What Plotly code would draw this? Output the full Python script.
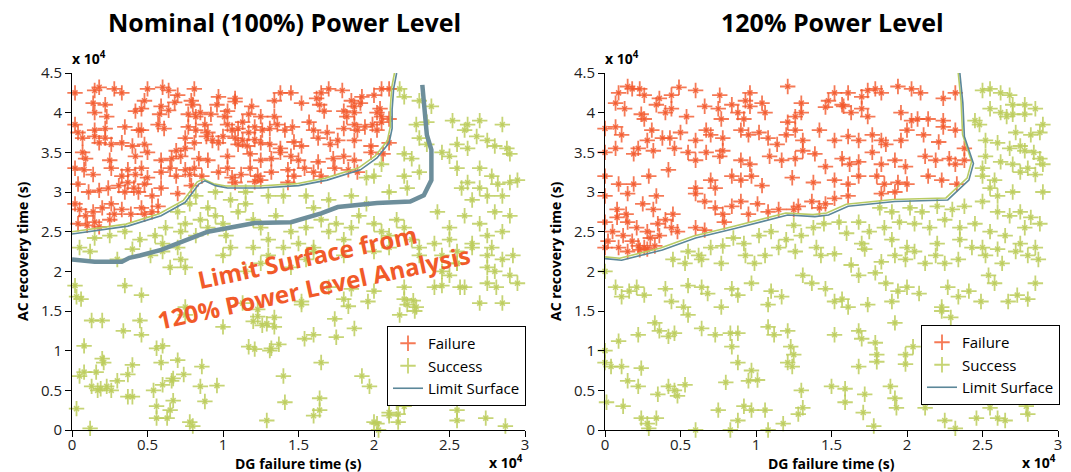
import plotly.graph_objects as go

# ---------------- data (units of 10^4 s) ----------------
nominal_failure = [
(0.02,4.25),(0.15,4.28),(0.18,4.32),(0.28,4.3),(0.33,4.25),(0.5,4.3),(0.6,4.32),(0.64,4.28),(0.7,4.22),(0.81,4.3),(0.97,4.2),(1.08,4.18),(1.38,4.25),(1.45,4.25),(1.62,4.18),(1.65,4.25),(1.79,4.28),(1.92,4.2),(2.0,4.22),(2.05,4.3),(2.1,4.3),(1.7,4.3),
(0.14,4.12),(0.22,4.1),(0.48,4.15),(0.59,4.08),(0.68,4.13),(0.79,4.15),(0.8,4.1),(0.96,4.1),(1.08,4.14),(1.19,4.08),(1.34,4.15),(1.52,4.12),(1.64,4.1),(1.85,4.15),(1.87,4.08),(1.91,4.12),(2.04,4.05),
(0.15,4.0),(0.23,3.95),(0.42,4.02),(0.46,4.05),(0.58,3.98),(0.64,4.03),(0.77,3.98),(0.82,3.95),(0.85,4.0),(0.92,3.98),(1.01,3.95),(1.03,4.02),(1.17,3.98),(1.25,3.95),(1.34,3.95),(1.67,4.02),(1.8,4.02),(1.82,3.95),(1.87,4.0),(2.02,4.0),(2.05,3.95),(2.1,3.92),
(0.02,3.85),(0.04,3.75),(0.15,3.78),(0.22,3.8),(0.35,3.82),(0.44,3.78),(0.46,3.78),(0.57,3.85),(0.61,3.8),(0.77,3.82),(0.82,3.78),(0.88,3.85),(0.9,3.75),(1.03,3.85),(1.06,3.78),(1.1,3.8),(1.13,3.88),(1.17,3.75),(1.21,3.82),(1.26,3.78),(1.31,3.8),(1.36,3.85),(1.41,3.78),(1.46,3.82),(1.57,3.88),(1.6,3.78),(1.69,3.75),(1.8,3.8),(1.87,3.85),(1.89,3.78),(1.94,3.82),(1.99,3.85),(2.02,3.78),(2.05,3.88),
(0.07,3.68),(0.15,3.7),(0.18,3.62),(0.22,3.68),(0.26,3.6),(0.33,3.62),(0.4,3.58),(0.48,3.6),(0.75,3.68),(0.81,3.62),(0.89,3.7),(0.93,3.65),(0.97,3.62),(1.0,3.7),(1.08,3.68),(1.1,3.6),(1.13,3.65),(1.16,3.58),(1.21,3.66),(1.25,3.62),(1.31,3.6),(1.38,3.55),(1.47,3.63),(1.52,3.58),(1.63,3.68),(1.71,3.6),(1.76,3.65),(1.87,3.65),(1.98,3.58),(2.1,3.62),
(0.07,3.5),(0.09,3.42),(0.25,3.4),(0.42,3.45),(0.5,3.5),(0.59,3.4),(0.66,3.42),(0.69,3.52),(0.72,3.45),(0.75,3.55),(0.84,3.42),(0.9,3.4),(1.03,3.45),(1.18,3.48),(1.25,3.4),(1.32,3.42),(1.38,3.5),(1.45,3.45),(1.5,3.4),(1.63,3.38),(1.73,3.42),(1.8,3.45),(1.87,3.4),(1.98,3.5),(2.06,3.48),
(0.02,3.3),(0.08,3.28),(0.14,3.22),(0.26,3.3),(0.33,3.2),(0.37,3.28),(0.42,3.22),(0.46,3.3),(0.5,3.18),(0.59,3.25),(0.65,3.3),(0.69,3.2),(0.75,3.28),(0.78,3.22),(0.81,3.3),(0.86,3.2),(0.97,3.25),(1.03,3.3),(1.06,3.18),(1.12,3.22),(1.18,3.3),(1.23,3.2),(1.32,3.25),(1.43,3.28),(1.47,3.2),(1.54,3.3),(1.6,3.25),(1.65,3.2),(1.74,3.3),(1.83,3.28),(1.89,3.25),
(0.04,3.1),(0.11,3.0),(0.18,3.02),(0.24,3.05),(0.31,3.08),(0.35,3.0),(0.37,3.12),(0.41,3.05),(0.44,3.0),(0.48,3.1),(0.53,2.95),(0.59,3.05),(0.7,2.98),(0.79,3.08),(1.08,3.12),(1.21,3.13),(1.25,3.15),(1.43,3.12),
(0.02,2.85),(0.05,2.78),(0.09,2.7),(0.14,2.75),(0.2,2.8),(0.26,2.85),(0.28,2.72),(0.33,2.78),(0.39,2.72),(0.46,2.8),(0.48,2.72),(0.53,2.75),(0.57,2.82),(0.04,2.6),(0.1,2.58),(0.15,2.62),(0.25,2.65),(0.18,2.56),
]

nominal_success = [
(2.17,4.3),(2.2,4.2),(2.3,4.15),(2.38,4.08),(2.35,3.88),(2.28,3.85),(2.52,3.9),(2.62,3.85),(2.7,3.9),(2.85,3.85),(2.6,3.78),(2.68,3.7),(2.3,3.68),(2.35,3.6),(2.55,3.6),(2.62,3.55),(2.75,3.65),(2.8,3.58),(2.88,3.55),(2.9,3.48),(2.2,3.48),(2.25,3.42),(2.45,3.5),(2.5,3.45),(2.55,3.3),(2.7,3.3),(2.78,3.2),(2.82,3.1),(2.9,3.12),(2.95,3.15),(2.62,3.12),(2.58,3.05),(2.7,3.05),(2.75,2.95),(2.65,2.9),(2.85,2.95),(2.9,2.7),(2.8,2.75),(2.7,2.6),(2.6,2.7),(2.5,2.55),(2.42,2.75),(2.2,3.2),(2.3,3.25),(2.22,3.05),(2.1,3.0),(2.0,3.2),(2.05,3.35),(1.95,3.18),
(0.82,2.95),(0.78,2.85),(0.9,2.8),(0.95,2.7),(0.85,2.65),(0.75,2.6),(0.7,2.75),(0.72,2.5),(0.82,2.45),(0.9,2.55),(1.0,2.6),(1.02,2.45),(1.1,2.75),(1.15,2.85),(1.2,2.65),(1.25,2.55),(1.3,2.4),(1.35,2.7),(1.4,2.95),(1.45,2.5),(1.5,2.35),(1.55,2.55),(1.6,2.8),(1.65,2.65),(1.7,2.5),(1.75,2.6),(1.8,2.4),(1.85,2.55),(1.9,2.7),(1.95,2.85),(2.0,2.6),(2.05,2.5),(2.1,2.45),(2.15,2.65),(2.2,2.55),(2.25,2.4),(2.3,2.3),(1.85,2.95),(1.7,2.9),(1.55,2.95),(1.3,2.95),(1.15,3.0),(1.05,2.9),(0.95,3.0),(0.62,2.55),(0.55,2.45),(0.45,2.4),(0.35,2.5),(0.25,2.45),(0.15,2.42),(0.6,2.35),(0.7,2.3),(1.2,2.3),(1.4,2.3),(1.6,2.3),(2.4,2.35),(2.5,2.4),(2.55,2.25),(2.65,2.35),(2.75,2.45),(2.85,2.5),(2.78,2.3),(2.92,2.2),(2.45,2.2),
(0.05,2.3),(0.12,2.25),(0.3,2.15),(0.4,2.28),(0.52,2.2),(0.6,2.25),(0.65,2.05),(0.72,2.15),(0.75,2.05),(1.0,2.2),(1.05,2.3),(1.15,2.0),(1.25,2.1),(1.3,2.2),(1.45,2.05),(1.55,2.15),(1.6,2.25),(1.8,2.2),(2.0,2.25),(2.1,2.3),(2.3,2.2),(2.45,2.0),(2.55,2.1),(2.65,2.3),(2.75,2.2),(2.8,2.0),(2.85,2.15),(2.9,1.95),(2.75,1.85),(2.6,1.8),(2.45,1.82),(2.2,1.8),(2.0,1.75),(1.85,1.78),(1.7,1.8),
(0.02,1.82),(0.03,1.68),(0.06,1.65),(0.35,1.82),(0.46,1.7),(0.75,1.55),(1.13,1.6),(1.23,1.52),(1.52,1.62),(1.52,1.58),(1.8,1.65),(1.83,1.56),(1.96,1.62),(2.2,1.65),(2.22,1.58),(2.26,1.63),(2.28,1.55),(2.4,1.8),(2.57,1.8),(2.81,1.8),
(0.13,1.38),(0.2,1.38),(0.34,1.25),(0.45,1.38),(0.46,1.2),(0.75,1.45),(1.0,1.3),(1.2,1.37),(1.23,1.43),(1.26,1.32),(1.29,1.34),(1.34,1.3),(1.34,1.42),(1.54,1.15),(1.6,1.2),(1.74,1.4),(1.75,1.17),(1.87,1.28),(2.17,1.45),(2.27,1.5),
(0.08,1.06),(0.2,0.9),(0.21,0.85),(0.4,0.82),(0.56,1.03),(0.6,1.06),(0.59,0.85),(0.7,0.88),(0.86,0.8),(1.17,1.05),(1.21,1.02),(1.31,1.0),(1.32,1.03),(1.37,1.08),(1.65,0.85),(1.92,0.68),(1.97,0.55),
(0.05,0.68),(0.08,0.73),(0.16,0.73),(0.13,0.55),(0.3,0.62),(0.37,0.7),(0.6,0.57),(0.66,0.62),(0.67,0.65),(0.74,0.7),(0.85,0.55),(0.96,0.56),(1.4,0.68),
(0.03,0.27),(0.17,0.5),(0.19,0.52),(0.23,0.55),(0.26,0.5),(0.37,0.42),(0.4,0.42),(0.54,0.5),(0.56,0.3),(0.65,0.25),(0.67,0.37),(0.88,0.36),(1.41,0.35),(1.64,0.4),(1.64,0.25),(2.1,0.22),(2.2,0.35),(2.15,0.35),(2.2,0.3),(2.84,0.45),
(0.12,0.02),(0.56,0.15),(0.63,0.15),(0.78,0.1),(0.8,0.05),(1.29,0.12),(1.6,0.18),(2.0,0.1),(2.02,0.08),(2.03,0.0),(2.1,0.18),(2.16,0.2),(2.16,0.1),(2.55,0.12),(2.74,0.15),(2.87,0.05),(2.55,0.25),
(2.5,1.95),(2.55,2.1),(2.7,1.6),(2.75,2.05),(2.85,1.6),(2.95,1.85),
]

high_failure = [
(0.09,4.25),(0.15,4.33),(0.18,4.3),(0.23,4.3),(0.26,4.22),(0.36,4.18),(0.44,4.22),(0.49,4.32),(0.6,4.28),(0.76,4.22),(0.96,4.25),(1.04,4.12),(1.21,4.33),(1.3,4.12),(1.52,4.25),(1.61,4.25),(1.7,4.2),(1.74,4.28),(1.79,4.3),(1.83,4.25),(1.94,4.33),(2.03,4.3),(2.09,4.25),(2.24,4.18),(2.32,4.25),(1.48,4.15),(1.57,4.1),(0.93,4.15),
(0.07,4.12),(0.13,4.05),(0.24,3.98),(0.26,3.92),(0.34,4.1),(0.4,4.0),(0.44,4.05),(0.54,3.95),(0.66,4.08),(0.75,4.05),(0.77,3.92),(0.84,4.1),(0.88,4.0),(0.92,3.92),(0.96,4.08),(1.06,4.0),(1.21,3.88),(1.26,3.95),(1.3,4.0),(1.46,4.07),(1.58,4.08),(1.63,4.0),(1.7,4.05),(1.74,3.95),(1.96,4.0),(2.03,3.9),(2.07,3.92),(2.14,3.92),(2.24,3.9),
(0.0,3.8),(0.07,3.82),(0.11,3.72),(0.28,3.65),(0.31,3.78),(0.38,3.68),(0.43,3.68),(0.5,3.75),(0.6,3.65),(0.67,3.78),(0.7,3.72),(0.78,3.68),(0.9,3.78),(0.95,3.72),(1.02,3.75),(1.08,3.68),(1.14,3.6),(1.2,3.72),(1.26,3.78),(1.31,3.65),(1.42,3.78),(1.52,3.65),(1.61,3.7),(1.68,3.65),(1.77,3.72),(1.83,3.65),(1.86,3.6),(1.96,3.65),(2.0,3.78),(2.11,3.72),(2.21,3.63),(2.24,3.82),(2.32,3.78),(2.38,3.55),
(0.0,3.5),(0.07,3.55),(0.19,3.48),(0.22,3.55),(0.32,3.52),(0.46,3.55),(0.55,3.5),(0.6,3.4),(0.67,3.5),(0.76,3.45),(0.78,3.52),(0.9,3.4),(0.96,3.35),(1.09,3.45),(1.17,3.4),(1.26,3.42),(1.31,3.52),(1.39,3.48),(1.46,3.32),(1.57,3.42),(1.62,3.35),(1.68,3.38),(1.77,3.5),(1.83,3.35),(1.92,3.4),(1.99,3.32),(2.12,3.45),(2.19,3.4),(2.28,3.42),(2.32,3.35),(2.38,3.4),
(0.0,3.2),(0.09,3.1),(0.19,3.1),(0.29,3.2),(0.42,3.28),(0.6,3.05),(0.7,3.15),(0.73,3.05),(0.84,3.2),(0.9,3.15),(0.97,3.2),(1.04,3.08),(1.24,3.18),(1.38,3.12),(1.52,3.15),(1.61,3.1),(1.68,3.2),(1.8,3.2),(1.85,3.1),(1.94,3.12),(2.0,3.1),(2.14,3.2),(2.23,3.15),(2.33,3.1),
(0.0,2.95),(0.15,2.98),(0.34,2.95),(0.6,2.98),(0.66,2.88),(0.73,2.8),(0.84,2.82),(0.9,2.88),(1.01,2.85),(1.08,2.75),(1.28,2.82),(1.37,2.88),(1.46,2.85),(1.52,2.92),(1.61,2.95),(1.83,2.98),(1.92,3.0),(0.25,2.85),(0.32,2.78),(0.08,2.78),(0.14,2.72),(0.45,2.72),(0.78,2.72),(0.95,2.72),(1.15,2.78),(1.25,2.78),(1.42,2.8),
(0.0,2.62),(0.08,2.68),(0.15,2.62),(0.21,2.55),(0.28,2.5),(0.35,2.6),(0.4,2.65),(0.44,2.55),(0.48,2.5),(0.6,2.55),(0.66,2.52),(0.79,2.62),(0.05,2.5),(0.12,2.45),(0.18,2.38),(0.22,2.32),(0.3,2.42),(0.36,2.45),(0.02,2.38),(0.09,2.3),(0.26,2.3),
(0.0,2.3),(0.15,2.25),(0.23,2.27),(0.28,2.28),(0.33,2.32),
]

high_success = [
(2.5,4.28),(2.55,4.3),(2.62,4.25),(2.68,4.22),(2.7,4.1),(2.78,4.1),(2.85,4.05),(2.55,4.05),(2.62,4.0),(2.66,3.95),(2.7,3.98),(2.78,3.98),(2.45,3.9),(2.48,3.85),(2.9,3.85),(2.72,3.75),(2.82,3.72),(2.88,3.75),(2.52,3.65),(2.6,3.62),(2.68,3.55),(2.75,3.58),(2.78,3.52),(2.84,3.5),(2.88,3.42),(2.9,3.35),(2.8,3.3),(2.7,3.35),(2.62,3.38),(2.52,3.45),(2.5,3.3),(2.5,3.2),(2.58,3.15),(2.75,3.25),(2.85,3.22),(2.9,3.0),(2.7,3.0),(2.6,2.95),(2.55,3.05),
(1.82,2.8),(1.9,2.75),(2.02,2.8),(2.1,2.75),(2.2,2.82),(2.3,2.78),(2.38,2.82),(2.5,2.88),(2.6,2.75),(2.68,2.7),(2.75,2.75),(2.82,2.68),(2.88,2.6),(2.78,2.55),(2.65,2.45),(2.55,2.5),(2.45,2.6),(2.35,2.55),(2.25,2.65),(2.15,2.55),(2.05,2.6),(1.95,2.62),(1.85,2.55),(1.75,2.5),(1.68,2.62),(1.6,2.48),(1.55,2.62),(1.45,2.6),(1.38,2.55),(1.3,2.45),(1.25,2.58),(1.2,2.4),(1.1,2.5),(1.02,2.45),(0.92,2.35),(0.85,2.42),(0.78,2.32),(0.7,2.3),(0.62,2.2),(0.55,2.25),(0.45,2.15),(1.15,2.3),(1.4,2.3),(1.7,2.35),(1.9,2.4),(2.0,2.3),(2.2,2.35),(2.35,2.4),(2.5,2.3),(2.6,2.28),(2.75,2.35),(2.85,2.3),
(0.53,2.1),(0.64,2.15),(0.77,2.1),(0.93,2.2),(0.99,2.1),(1.06,2.2),(1.26,2.25),(1.43,2.2),(1.52,2.22),(1.63,2.08),(1.72,2.28),(1.83,2.12),(1.92,2.2),(1.99,2.15),(2.05,2.25),(2.12,2.1),(2.19,2.2),(2.25,2.1),(2.34,2.15),(2.43,2.3),(2.52,2.2),(2.63,2.1),(2.72,2.25),(2.8,2.2),(2.87,2.15),
(0.0,2.0),(0.07,1.8),(0.11,1.68),(0.16,1.75),(0.21,1.8),(0.26,1.7),(0.4,1.78),(0.44,1.62),(0.52,1.55),(0.55,1.82),(0.64,1.8),(0.68,1.72),(0.77,1.55),(0.84,1.78),(0.88,1.7),(0.97,1.85),(1.08,1.58),(1.1,1.75),(1.17,1.68),(1.31,1.95),(1.37,1.85),(1.46,1.78),(1.52,1.62),(1.57,1.65),(1.61,1.55),(1.68,1.95),(1.74,1.58),(1.79,1.98),(1.86,1.85),(1.9,1.62),(1.94,1.75),(2.0,1.8),(2.08,1.72),(2.23,1.55),(2.27,1.8),(2.34,1.68),(2.41,1.75),(2.49,1.62),(2.54,1.95),(2.58,1.85),(2.67,1.62),(2.73,1.7),(2.8,1.65),(2.85,1.85),
(0.0,1.0),(0.09,1.12),(0.22,1.2),(0.33,1.35),(0.36,1.25),(0.42,1.18),(0.46,1.22),(0.55,1.45),(0.64,1.28),(0.73,1.2),(0.83,1.22),(0.84,1.05),(0.88,1.22),(1.08,1.3),(1.12,1.2),(1.21,1.25),(1.23,1.05),(1.25,0.95),(1.52,1.2),(1.68,1.25),(1.7,1.15),(1.79,1.1),(1.8,0.95),(1.92,1.35),(1.99,0.95),(2.04,1.05),(2.23,1.5),(2.29,1.42),
(0.0,0.85),(0.04,0.8),(0.11,0.8),(0.15,0.62),(0.22,0.55),(0.24,0.78),(0.35,0.45),(0.42,0.55),(0.46,0.5),(0.48,0.43),(0.53,0.57),(0.8,0.6),(0.88,0.85),(0.95,0.62),(0.97,0.75),(1.01,0.63),(1.21,0.85),(1.24,0.8),(1.3,0.5),(1.5,0.55),(1.59,0.52),(1.68,0.8),(1.72,0.45),(1.8,0.86),(1.89,0.55),(1.92,0.4),(1.99,0.83),
(0.01,0.35),(0.12,0.3),(0.24,0.15),(0.28,0.08),(0.29,0.02),(0.34,0.15),(0.6,0.0),(0.75,0.25),(0.83,0.0),(0.88,0.12),(0.92,0.3),(0.97,0.25),(1.06,0.25),(1.08,0.0),(1.18,0.08),(1.28,0.2),(1.31,0.28),(1.59,0.35),(1.71,0.22),(1.78,0.05),(1.93,0.28),(2.12,0.28),(2.25,0.12),(2.32,0.02),(2.46,0.15),(2.55,0.28),(2.6,0.15),(2.65,0.12),(2.79,0.3),(2.8,0.2),
]

nominal_limit = [(0.0,2.47),(0.37,2.57),(0.59,2.7),(0.75,2.87),(0.84,3.1),(0.88,3.14),(0.95,3.08),(1.03,3.05),(1.25,3.05),(1.5,3.08),(1.69,3.15),(1.91,3.28),(2.02,3.43),(2.1,3.62),(2.12,3.8),(2.12,4.04),(2.13,4.3),(2.15,4.5)]
high_limit = [(0.0,2.16),(0.11,2.14),(0.38,2.27),(0.6,2.42),(0.86,2.54),(1.04,2.63),(1.21,2.71),(1.39,2.69),(1.48,2.71),(1.61,2.82),(1.92,2.88),(2.27,2.9),(2.41,3.15),(2.44,3.36),(2.38,3.7),(2.37,4.12),(2.35,4.5)]
high_limit_on_nominal = [(0.0,2.15),(0.15,2.12),(0.33,2.12),(0.38,2.17),(0.45,2.2),(0.59,2.27),(0.9,2.5),(1.21,2.61),(1.45,2.62),(1.65,2.73),(1.76,2.81),(2.02,2.86),(2.24,2.88),(2.33,2.96),(2.38,3.15),(2.38,3.53),(2.35,3.72),(2.33,4.12),(2.32,4.35)]

x_ticks = [0, 0.5, 1, 1.5, 2, 2.5, 3]
y_ticks = [0, 0.5, 1, 1.5, 2, 2.5, 3, 3.5, 4, 4.5]
titles = ["Nominal (100%) Power Level", "120% Power Level"]

# ---------------- styles ----------------
FAIL_C = "rgba(242,88,42,0.8)"
SUCC_C = "rgba(188,204,92,0.85)"
GREEN_L = "#b9cc63"
BLUE_L = "#5b8799"
FONT = "Open Sans"
W, H = 1071, 472

def px_x(p):
    return p / W

def px_y(p):
    return 1 - p / H

def xs(pts):
    return [p[0] for p in pts]

def ys(pts):
    return [p[1] for p in pts]

fig = go.Figure()

panels = [
    ("x", "y", "legend", nominal_failure, nominal_success, nominal_limit),
    ("x2", "y2", "legend2", high_failure, high_success, high_limit),
]

def add_sparkle(pts, color, name, xa, ya, lg, rank):
    # MATLAB-like '*' marker: a long '+' with short diagonal arms
    fig.add_trace(go.Scatter(x=xs(pts), y=ys(pts), mode="markers", showlegend=False, hoverinfo="skip",
                             marker=dict(symbol="x-thin-open", size=5, color=color, line=dict(color=color, width=1.6)),
                             cliponaxis=False, xaxis=xa, yaxis=ya))
    fig.add_trace(go.Scatter(x=xs(pts), y=ys(pts), mode="markers", name=name,
                             marker=dict(symbol="cross-thin-open", size=11, color=color, line=dict(color=color, width=1.8)),
                             cliponaxis=False, xaxis=xa, yaxis=ya, legend=lg, legendrank=rank))

for xa, ya, lg, fail, succ, lim in panels:
    add_sparkle(succ, SUCC_C, "Success", xa, ya, lg, 2)
    add_sparkle(fail, FAIL_C, "Failure", xa, ya, lg, 1)
    fig.add_trace(go.Scatter(x=[v - 0.012 for v in xs(lim)], y=[v + 0.025 for v in ys(lim)], mode="lines",
                             line=dict(color=GREEN_L, width=1.6), showlegend=False, cliponaxis=False,
                             xaxis=xa, yaxis=ya, hoverinfo="skip"))
    fig.add_trace(go.Scatter(x=xs(lim), y=ys(lim), mode="lines", name="Limit Surface",
                             line=dict(color=BLUE_L, width=1.6), cliponaxis=False,
                             xaxis=xa, yaxis=ya, legend=lg, legendrank=3))

fig.add_trace(go.Scatter(x=xs(high_limit_on_nominal), y=ys(high_limit_on_nominal), mode="lines",
                         line=dict(color="#6d8e9b", width=4.5), showlegend=False,
                         xaxis="x", yaxis="y", hoverinfo="skip"))

axis_common = dict(showgrid=False, zeroline=False, showline=True, linecolor="black", linewidth=1,
                   ticks="outside", ticklen=6, tickwidth=1, tickcolor="black", mirror=False,
                   tickfont=dict(family=FONT, size=15, color="#222"))

xd1 = [px_x(72), px_x(525)]
xd2 = [px_x(605), px_x(1058)]
yd = [px_y(430), px_y(73)]

legend_common = dict(xanchor="right", yanchor="top", bgcolor="white", bordercolor="black", borderwidth=1,
                     font=dict(family=FONT, size=15, color="black"), tracegroupgap=0, itemwidth=30)

fig.update_layout(
    width=W, height=H, margin=dict(l=0, r=0, t=0, b=0, autoexpand=False),
    paper_bgcolor="white", plot_bgcolor="white",
    xaxis=dict(domain=xd1, range=[0, 3], tickvals=x_ticks, ticktext=[f"{v:g}" for v in x_ticks], anchor="y",
               ticklabelstandoff=-5, **axis_common),
    yaxis=dict(domain=yd, range=[0, 4.5], tickvals=y_ticks, ticktext=[f"{v:g}" for v in y_ticks], anchor="x", **axis_common),
    xaxis2=dict(domain=xd2, range=[0, 3], tickvals=x_ticks, ticktext=[f"{v:g}" for v in x_ticks], anchor="y2",
                ticklabelstandoff=-5, **axis_common),
    yaxis2=dict(domain=yd, range=[0, 4.5], tickvals=y_ticks, ticktext=[f"{v:g}" for v in y_ticks], anchor="x2", **axis_common),
    legend=dict(x=px_x(526), y=px_y(326), **legend_common),
    legend2=dict(x=px_x(1060), y=px_y(325), **legend_common),
    showlegend=True,
)

ann = []
for (cx, t) in [(284, titles[0]), (832, titles[1])]:
    ann.append(dict(x=px_x(cx), y=px_y(22), xref="paper", yref="paper", text=f"<b>{t}</b>", showarrow=False,
                    font=dict(family=FONT, size=25, color="black"), xanchor="center", yanchor="middle"))
for (lx, ax_l, bx) in [(72, 22, 298), (605, 555, 831)]:
    ann.append(dict(x=px_x(lx - 2), y=px_y(58), xref="paper", yref="paper", text="<b>x 10<sup>4</sup></b>",
                    showarrow=False, font=dict(family=FONT, size=14, color="black"), xanchor="left", yanchor="middle"))
    ann.append(dict(x=px_x(lx + 453), y=px_y(462), xref="paper", yref="paper", text="<b>x 10<sup>4</sup></b>",
                    showarrow=False, font=dict(family=FONT, size=14, color="black"), xanchor="right", yanchor="middle"))
    ann.append(dict(x=px_x(ax_l), y=px_y(251), xref="paper", yref="paper", text="<b>AC recovery time (s)</b>",
                    showarrow=False, textangle=-90, font=dict(family=FONT, size=14, color="black"),
                    xanchor="center", yanchor="middle"))
    ann.append(dict(x=px_x(bx), y=px_y(463), xref="paper", yref="paper", text="<b>DG failure time (s)</b>",
                    showarrow=False, font=dict(family=FONT, size=14, color="black"), xanchor="center", yanchor="middle"))

ann.append(dict(x=px_x(310), y=px_y(272), xref="paper", yref="paper",
                text="<b>Limit Surface from<br>120% Power Level Analysis</b>", showarrow=False, textangle=-12,
                font=dict(family=FONT, size=24, color="#f15a29"), xanchor="center", yanchor="middle", align="center"))

fig.update_layout(annotations=ann)

fig.write_html("out.html")
